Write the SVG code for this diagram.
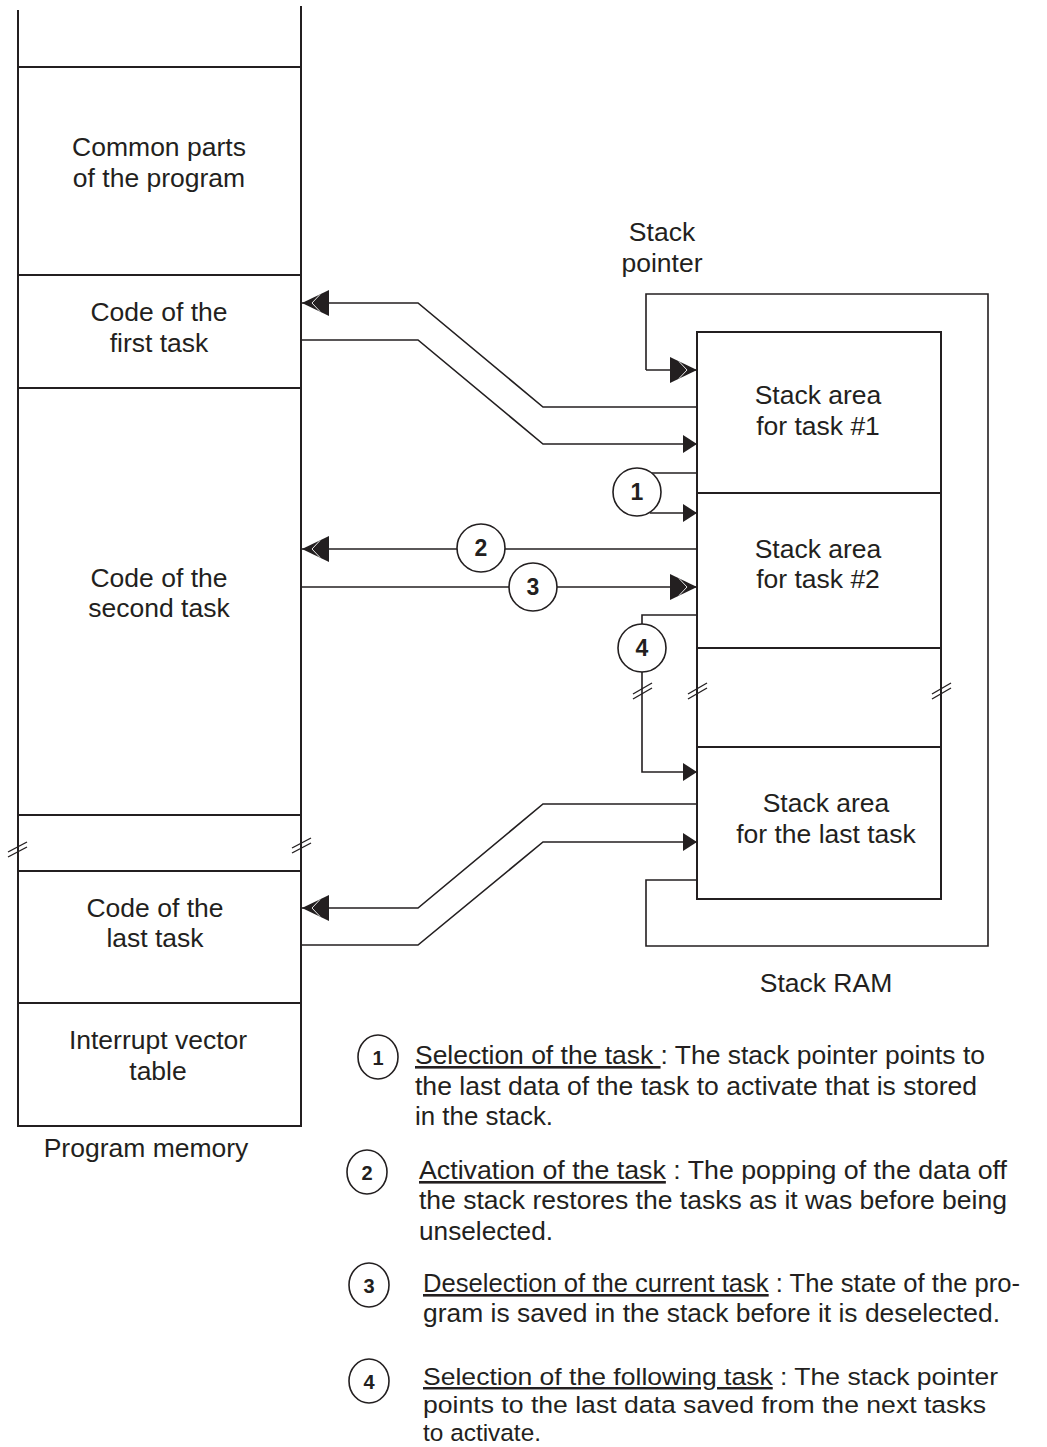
<svg xmlns="http://www.w3.org/2000/svg" width="1047" height="1447" viewBox="0 0 1047 1447">
<style>
text{font-family:"Liberation Sans",Arial,sans-serif;font-size:26.5px;fill:#231f20}
.c{text-anchor:middle}
.n{font-weight:bold;text-anchor:middle;font-size:23px}
.box{fill:none;stroke:#231f20;stroke-width:2}
.ln{fill:none;stroke:#231f20;stroke-width:1.6}
.brk{stroke:#231f20;stroke-width:1.4}
.circ{fill:#fff;stroke:#231f20;stroke-width:1.6}
.u{text-decoration:underline}
.lg{font-size:26px}
.lg4{font-size:24.5px}
</style>
<defs>
<marker id="a1" markerUnits="userSpaceOnUse" markerWidth="14" markerHeight="20" viewBox="0 0 14 20" refX="14" refY="10" orient="auto">
<path d="M0,1 L14,10 L0,19 z" fill="#231f20"/>
</marker>
<marker id="a2" markerUnits="userSpaceOnUse" markerWidth="28" markerHeight="28" viewBox="0 0 28 28" refX="28" refY="14" orient="auto">
<path d="M1,1 L28,14 L1,27 z" fill="#231f20"/>
<path d="M10,5.5 L18,14 L10,22.5" fill="none" stroke="#fff" stroke-width="0.9"/>
</marker>
</defs>
<rect width="1047" height="1447" fill="#fff"/>

<g id="program-memory">
<line class="box" x1="18" y1="10" x2="18" y2="1127"/>
<line class="box" x1="301" y1="6" x2="301" y2="1127"/>
<line class="box" x1="18" y1="1126" x2="301" y2="1126"/>
<line class="box" x1="18" y1="67" x2="301" y2="67"/>
<line class="brk" x1="8" y1="852" x2="27" y2="842"/>
<line class="brk" x1="8" y1="857" x2="27" y2="847"/>
<line class="brk" x1="292" y1="848" x2="311" y2="838"/>
<line class="brk" x1="292" y1="853" x2="311" y2="843"/>
<text class="c" x="146" y="1157">Program memory</text>
</g>
<g id="common-parts">
<line class="box" x1="18" y1="275" x2="301" y2="275"/>
<text class="c" x="159" y="156">Common parts</text>
<text class="c" x="159" y="187">of the program</text>
</g>
<g id="first-task">
<line class="box" x1="18" y1="388" x2="301" y2="388"/>
<text class="c" x="159" y="321">Code of the</text>
<text class="c" x="159" y="352">first task</text>
</g>
<g id="second-task">
<line class="box" x1="18" y1="815" x2="301" y2="815"/>
<text class="c" x="159" y="587">Code of the</text>
<text class="c" x="159" y="617">second task</text>
</g>
<g id="last-task">
<line class="box" x1="18" y1="871" x2="301" y2="871"/>
<line class="box" x1="18" y1="1003" x2="301" y2="1003"/>
<text class="c" x="155" y="917">Code of the</text>
<text class="c" x="155" y="947">last task</text>
</g>
<g id="interrupt-vector">
<text class="c" x="158" y="1049">Interrupt vector</text>
<text class="c" x="158" y="1080">table</text>
</g>

<g id="stack-ram">
<rect class="box" x="697" y="332" width="244" height="567"/>
<line class="box" x1="697" y1="493" x2="941" y2="493"/>
<line class="box" x1="697" y1="648" x2="941" y2="648"/>
<line class="box" x1="697" y1="747" x2="941" y2="747"/>
<line class="brk" x1="688" y1="694" x2="707" y2="683"/>
<line class="brk" x1="688" y1="699" x2="707" y2="688"/>
<line class="brk" x1="932" y1="694" x2="951" y2="683"/>
<line class="brk" x1="932" y1="699" x2="951" y2="688"/>
<text class="c" x="826" y="992">Stack RAM</text>
</g>
<g id="stack-task1"><text class="c" x="818" y="404">Stack area</text><text class="c" x="818" y="435">for task #1</text></g>
<g id="stack-task2"><text class="c" x="818" y="558">Stack area</text><text class="c" x="818" y="588">for task #2</text></g>
<g id="stack-last"><text class="c" x="826" y="812">Stack area</text><text class="c" x="826" y="843">for the last task</text></g>
<g id="stack-pointer"><text class="c" x="662" y="241">Stack</text><text class="c" x="662" y="272">pointer</text></g>

<g id="connectors">
<polyline class="ln" points="646,370 646,294 988,294 988,946 646,946 646,880 697,880"/>
<line class="ln" x1="646" y1="370" x2="697" y2="370" marker-end="url(#a2)"/>
<polyline class="ln" points="697,407 543,407 418,303 302,303" marker-end="url(#a2)"/>
<polyline class="ln" points="302,340 418,340 543,444 697,444" marker-end="url(#a1)"/>
<polyline class="ln" points="650,473 697,473"/>
<polyline class="ln" points="650,513 697,513" marker-end="url(#a1)"/>
<line class="ln" x1="697" y1="549" x2="302" y2="549" marker-end="url(#a2)"/>
<line class="ln" x1="302" y1="587" x2="697" y2="587" marker-end="url(#a2)"/>
<polyline class="ln" points="697,615 642,615 642,772 697,772" marker-end="url(#a1)"/>
<line class="brk" x1="633" y1="694" x2="652" y2="683"/>
<line class="brk" x1="633" y1="699" x2="652" y2="688"/>
<polyline class="ln" points="697,804 543,804 418,908 302,908" marker-end="url(#a2)"/>
<polyline class="ln" points="302,945 418,945 543,842 697,842" marker-end="url(#a1)"/>
<circle class="circ" cx="637" cy="492" r="24"/><text class="n" x="637" y="500">1</text>
<circle class="circ" cx="481" cy="548" r="24"/><text class="n" x="481" y="556">2</text>
<circle class="circ" cx="533" cy="587" r="24"/><text class="n" x="533" y="595">3</text>
<circle class="circ" cx="642" cy="648" r="24"/><text class="n" x="642" y="656">4</text>
</g>

<g id="legend-1">
<ellipse class="circ" cx="378" cy="1057" rx="20" ry="22"/><text class="n" x="378" y="1065" style="font-size:20px">1</text>
<text class="lg" x="415" y="1064" textLength="570" lengthAdjust="spacingAndGlyphs"><tspan class="u">Selection of the task </tspan>: The stack pointer points to</text>
<text class="lg" x="415" y="1095" textLength="562" lengthAdjust="spacingAndGlyphs">the last data of the task to activate that is stored</text>
<text class="lg" x="415" y="1125" textLength="138" lengthAdjust="spacingAndGlyphs">in the stack.</text>
</g>
<g id="legend-2">
<ellipse class="circ" cx="367" cy="1172" rx="20" ry="22"/><text class="n" x="367" y="1180" style="font-size:20px">2</text>
<text class="lg" x="419" y="1179" textLength="588" lengthAdjust="spacingAndGlyphs"><tspan class="u">Activation of the task</tspan> : The popping of the data off</text>
<text class="lg" x="419" y="1209" textLength="588" lengthAdjust="spacingAndGlyphs">the stack restores the tasks as it was before being</text>
<text class="lg" x="419" y="1240" textLength="134" lengthAdjust="spacingAndGlyphs">unselected.</text>
</g>
<g id="legend-3">
<ellipse class="circ" cx="369" cy="1285" rx="20" ry="22"/><text class="n" x="369" y="1293" style="font-size:20px">3</text>
<text class="lg" x="423" y="1292" textLength="597" lengthAdjust="spacingAndGlyphs"><tspan class="u">Deselection of the current task</tspan> : The state of the pro-</text>
<text class="lg" x="423" y="1322" textLength="577" lengthAdjust="spacingAndGlyphs">gram is saved in the stack before it is deselected.</text>
</g>
<g id="legend-4">
<ellipse class="circ" cx="369" cy="1381" rx="20" ry="22"/><text class="n" x="369" y="1389" style="font-size:20px">4</text>
<text class="lg4" x="423" y="1385" textLength="575" lengthAdjust="spacingAndGlyphs"><tspan class="u">Selection of the following task</tspan> : The stack pointer</text>
<text class="lg4" x="423" y="1413" textLength="563" lengthAdjust="spacingAndGlyphs">points to the last data saved from the next tasks</text>
<text class="lg4" x="423" y="1441" textLength="118" lengthAdjust="spacingAndGlyphs">to activate.</text>
</g>
</svg>
